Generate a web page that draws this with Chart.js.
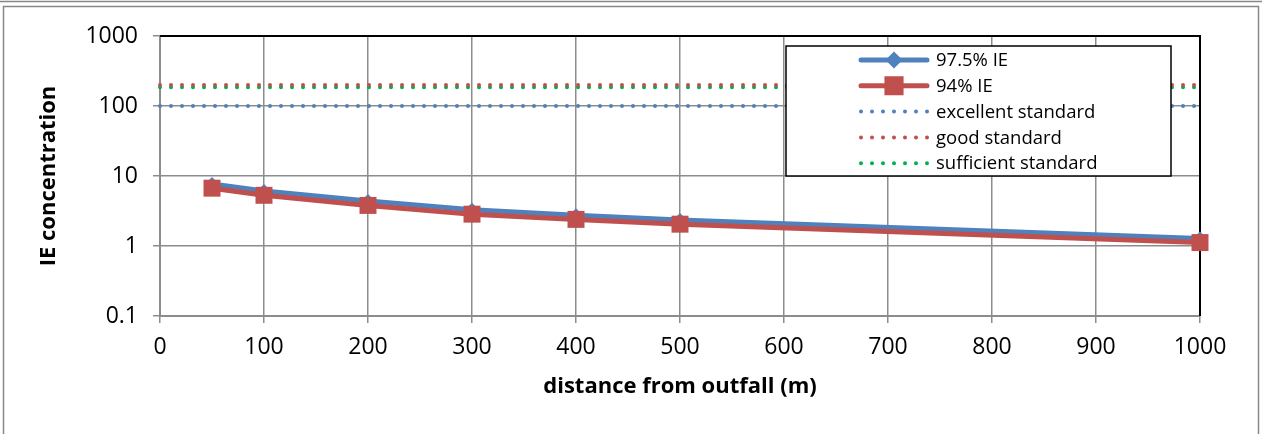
<!DOCTYPE html>
<html>
<head>
<meta charset="utf-8">
<script src="https://cdn.jsdelivr.net/npm/chart.js@4/dist/chart.umd.min.js"></script>
<style>
  html, body { margin: 0; padding: 0; background: #fff; }
  #wrap { position: relative; width: 1262px; height: 434px; }
</style>
</head>
<body>
<div id="wrap"><canvas id="myChart" width="1262" height="434"></canvas></div>
<script>
// values
var distances = [50, 100, 200, 300, 400, 500, 1000];
var ie975 = [7.7, 6.1, 4.4, 3.3, 2.75, 2.35, 1.28];
var ie94 = [6.7, 5.3, 3.8, 2.85, 2.4, 2.05, 1.12];
var standardX = [0, 1000];
var excellentStd = 100;
var goodStd = 200;
var sufficientStd = 185;
var yTicks = [0.1, 1, 10, 100, 1000];

var blue = '#4F81BD', red = '#C0504D', green = '#00B050';
var fontFam = '"Open Sans", "Liberation Sans", sans-serif';

function pts(xs, ys) {
    return xs.map(function (x, i) { return { x: x, y: ys[i] }; });
}
function flat(v) {
    return standardX.map(function (x) { return { x: x, y: v }; });
}

// outer frame + plot border
var framePlugin = {
    id: 'frame',
    beforeDraw: function (chart) {
        var c = chart.ctx;
        c.save();
        c.fillStyle = '#fff';
        c.fillRect(0, 0, chart.width, chart.height);
        c.strokeStyle = '#888';
        c.lineWidth = 1.5;
        c.beginPath();
        c.moveTo(0, 1.5); c.lineTo(chart.width, 1.5);
        c.stroke();
        c.strokeRect(3.5, 6.5, 1255, 440);
        c.restore();
    },
    beforeDatasetsDraw: function (chart) {
        var a = chart.chartArea, c = chart.ctx;
        c.save();
        c.strokeStyle = '#000';
        c.lineWidth = 2;
        c.beginPath();
        c.moveTo(a.left, a.top); c.lineTo(a.right, a.top); c.lineTo(a.right, a.bottom);
        c.stroke();
        c.restore();
    }
};

// boxed legend inside the plot, like the original
var boxLegend = {
    id: 'boxLegend',
    afterDatasetsDraw: function (chart) {
        var a = chart.chartArea, c = chart.ctx;
        var bx = a.left + 626, by = a.top + 10, bw = 385, bh = 130;
        c.save();
        c.fillStyle = '#fff';
        c.fillRect(bx, by, bw, bh);
        c.strokeStyle = '#000';
        c.lineWidth = 1.5;
        c.strokeRect(bx, by, bw, bh);
        c.font = '18.5px ' + fontFam;
        c.textBaseline = 'middle';
        chart.data.datasets.forEach(function (ds, i) {
            var y = by + 14 + i * 25.8;
            var x0 = bx + 75, x1 = bx + 141;
            c.strokeStyle = ds.borderColor;
            c.lineWidth = ds.borderWidth;
            c.lineCap = 'round';
            c.setLineDash(ds.borderDash || []);
            c.beginPath();
            c.moveTo(x0, y); c.lineTo(x1 + (ds.borderDash ? 2 : 0), y);
            c.stroke();
            c.setLineDash([]);
            if (ds.pointRadius > 0) {
                Chart.helpers.drawPoint(c, {
                    pointStyle: ds.pointStyle,
                    radius: ds.pointStyle === 'rect' ? 10 : 5,
                    rotation: 0,
                    borderWidth: 1
                }, (x0 + x1) / 2, y);
                c.fillStyle = ds.backgroundColor;
                c.fill();
            }
            c.fillStyle = '#000';
            c.fillText(ds.label, bx + 150, y + 1);
        });
        c.restore();
    }
};

var ctx = document.getElementById('myChart');
var myChart = new Chart(ctx, {
    type: 'line',
    data: {
        datasets: [{
            label: '97.5% IE',
            data: pts(distances, ie975),
            borderColor: blue,
            backgroundColor: blue,
            borderWidth: 5,
            pointStyle: 'rectRot',
            pointRadius: 7,
            pointBorderWidth: 0,
            order: 2,
            clip: false
        }, {
            label: '94% IE',
            data: pts(distances, ie94),
            borderColor: red,
            backgroundColor: red,
            borderWidth: 5,
            pointStyle: 'rect',
            pointRadius: 12,
            pointBorderWidth: 0,
            order: 1,
            clip: false
        }, {
            label: 'excellent standard',
            data: flat(excellentStd),
            borderColor: blue,
            backgroundColor: blue,
            borderWidth: 4,
            borderDash: [0, 11],
            borderCapStyle: 'round',
            pointRadius: 0,
            order: 3,
            clip: false
        }, {
            label: 'good standard',
            data: flat(goodStd),
            borderColor: red,
            backgroundColor: red,
            borderWidth: 4,
            borderDash: [0, 11],
            borderCapStyle: 'round',
            pointRadius: 0,
            order: 4,
            clip: false
        }, {
            label: 'sufficient standard',
            data: flat(sufficientStd),
            borderColor: green,
            backgroundColor: green,
            borderWidth: 4,
            borderDash: [0, 11],
            borderCapStyle: 'round',
            pointRadius: 0,
            order: 5,
            clip: false
        }]
    },
    options: {
        responsive: false,
        animation: false,
        devicePixelRatio: 1,
        layout: { padding: { top: 36, right: 62, bottom: 34, left: 10 } },
        plugins: {
            legend: { display: false },
            tooltip: { enabled: false }
        },
        scales: {
            x: {
                type: 'linear',
                min: 0,
                max: 1000,
                ticks: {
                    stepSize: 100, color: '#000', padding: 11,
                    font: { family: fontFam, size: 23 },
                    callback: function (v) { return String(v); }
                },
                grid: { color: '#8c8c8c', lineWidth: 1.5, tickLength: 7 },
                border: { color: '#8c8c8c', width: 2 },
                title: {
                    display: true,
                    text: 'distance from outfall (m)',
                    color: '#000',
                    font: { family: fontFam, size: 22, weight: 'bold' },
                    padding: { top: 4, bottom: 0 }
                },
                afterFit: function (s) { s.height = 84; }
            },
            y: {
                type: 'logarithmic',
                min: 0.1,
                max: 1000,
                afterBuildTicks: function (s) {
                    s.ticks = yTicks.map(function (v) { return { value: v }; });
                },
                ticks: {
                    color: '#000',
                    padding: 15,
                    font: { family: fontFam, size: 23 },
                    callback: function (v) { return String(v); }
                },
                grid: { color: '#8c8c8c', lineWidth: 1.5, tickLength: 7 },
                border: { color: '#8c8c8c', width: 2 },
                title: {
                    display: true,
                    text: 'IE concentration',
                    color: '#000',
                    font: { family: fontFam, size: 22, weight: 'bold' },
                    padding: { top: 26 }
                },
                afterFit: function (s) { s.width = 150; }
            }
        }
    },
    plugins: [framePlugin, boxLegend]
});
</script>
</body>
</html>
